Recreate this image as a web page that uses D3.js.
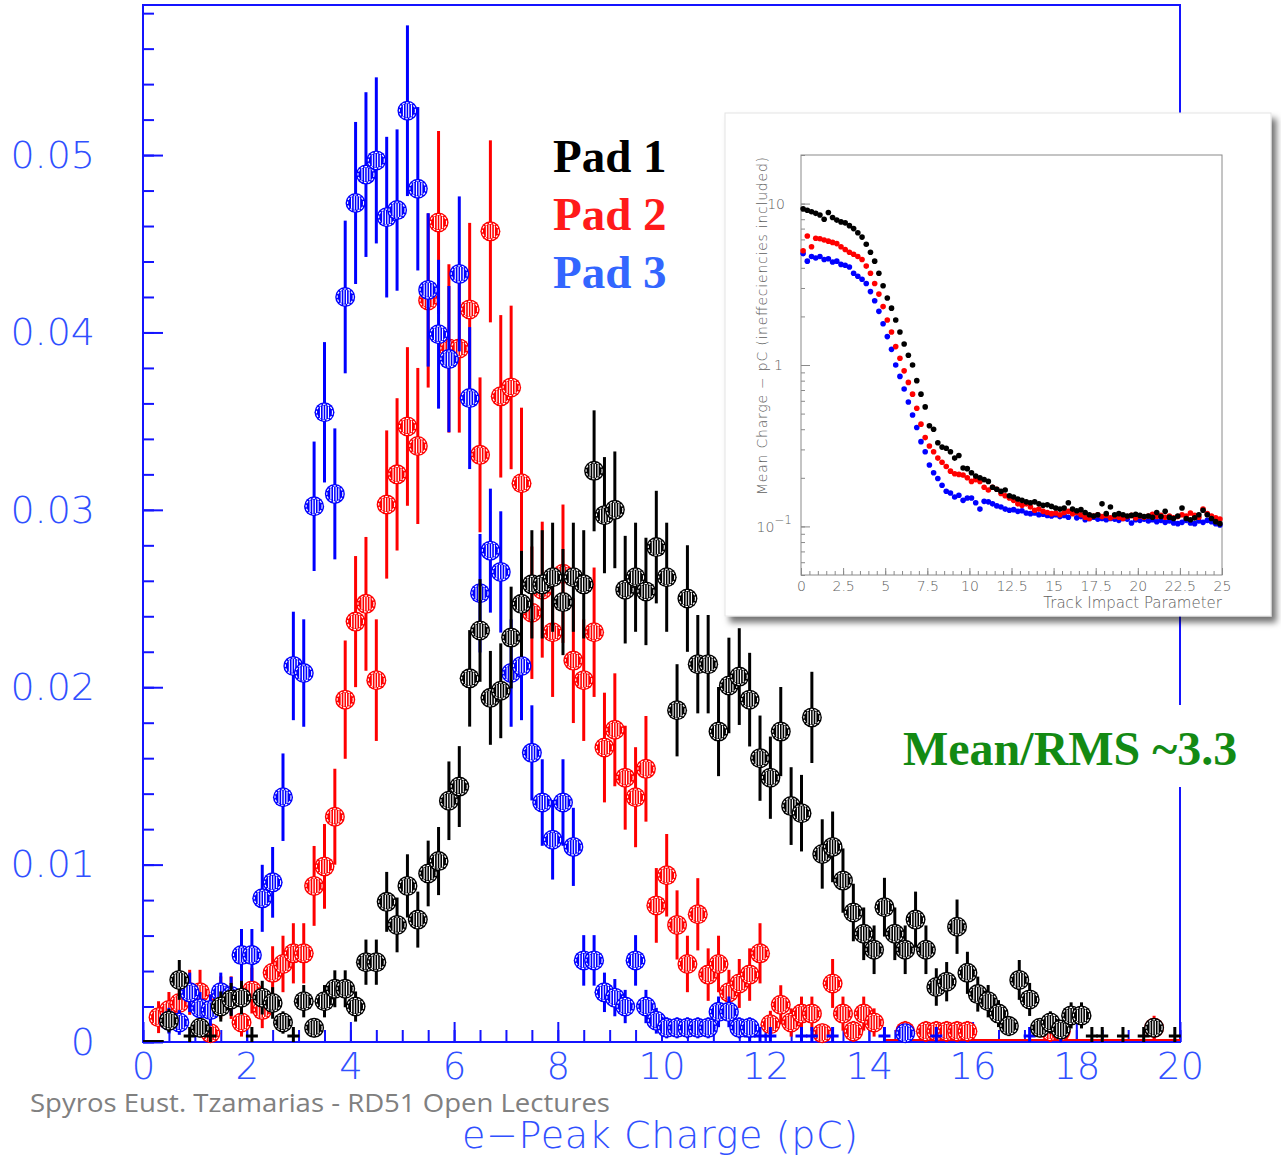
<!DOCTYPE html>
<html>
<head>
<meta charset="utf-8">
<script src="https://d3js.org/d3.v7.min.js"></script>
<style>
  body {margin: 0; background: #fff;}
  .domain {display: none;}
</style>
</head>
<body>
<svg id="chart" width="1281" height="1156"></svg>
<script>
// main histogram: 100 bins of 0.2 pC, values read bin by bin
var binCenters = d3.range(100).map(function(i) { return 0.1 + 0.2 * i; });

var pad1 = [
  0, 0, 0.0012, 0.0035, 0, 0.0008, 0, 0.0020, 0.0024, 0.0025,
  0, 0.0025, 0.0022, 0.0011, 0, 0.0023, 0.0008, 0.0023, 0.0030, 0.0030,
  0.0020, 0.0045, 0.0045, 0.0079, 0.0066, 0.0088, 0.0069, 0.0095, 0.0102, 0.0136,
  0.0144, 0.0205, 0.0232, 0.0194, 0.0198, 0.0228, 0.0247, 0.0258, 0.0258, 0.0262,
  0.0248, 0.0262, 0.0258, 0.0322, 0.0297, 0.0300, 0.0255, 0.0262, 0.0254, 0.0279,
  0.0262, 0.0187, 0.0250, 0.0213, 0.0213, 0.0175, 0.0201, 0.0206, 0.0193, 0.0160,
  0.0149, 0.0175, 0.0133, 0.0129, 0.0183, 0.0106, 0.0110, 0.0091, 0.0073, 0.0061,
  0.0052, 0.0076, 0.0061, 0.0052, 0.0069, 0.0052, 0.0031, 0.0034, 0.0065, 0.0039,
  0.0027, 0.0023, 0.0016, 0.0009, 0.0035, 0.0024, 0.0008, 0.0011, 0.0007, 0.0015,
  0.0015, 0, 0, 0, 0, 0, 0, 0.0008, 0, 0
];
var pad2 = [
  0, 0.0014, 0.0018, 0.0022, 0.0028, 0.0028, 0.0005, 0.0025, 0.0025, 0.0011,
  0.0029, 0.0018, 0.0039, 0.0044, 0.0050, 0.0050, 0.0088, 0.0099, 0.0127, 0.0193,
  0.0237, 0.0247, 0.0204, 0.0303, 0.0320, 0.0347, 0.0336, 0.0418, 0.0462, 0.0391,
  0.0391, 0.0413, 0.0331, 0.0457, 0.0364, 0.0369, 0.0315, 0.0242, 0.0255, 0.0231,
  0.0264, 0.0215, 0.0204, 0.0231, 0.0166, 0.0176, 0.0149, 0.0138, 0.0154, 0.0077,
  0.0094, 0.0066, 0.0044, 0.0072, 0.0038, 0.0044, 0.0028, 0.0033, 0.0038, 0.0050,
  0.0010, 0.0021, 0.0011, 0.0016, 0.0016, 0.0005, 0.0033, 0.0016, 0.0006, 0.0016,
  0.0011, 0, 0, 0.0006, 0, 0.0006, 0.0006, 0.0006, 0.0006, 0.0006,
  0, 0, 0, 0, 0, 0, 0, 0.0006, 0.0006, 0,
  0, 0, 0, 0, 0, 0, 0, 0.0008, 0, 0
];
var pad3 = [
  0, 0, 0.0012, 0.0011, 0.0028, 0.0019, 0.0018, 0.0028, 0.0026, 0.0049,
  0.0049, 0.0081, 0.0090, 0.0138, 0.0212, 0.0208, 0.0302, 0.0355, 0.0309, 0.0420,
  0.0473, 0.0489, 0.0497, 0.0465, 0.0469, 0.0525, 0.0481, 0.0424, 0.0399, 0.0385,
  0.0433, 0.0363, 0.0253, 0.0277, 0.0265, 0.0208, 0.0212, 0.0163, 0.0135, 0.0114,
  0.0135, 0.0110, 0.0046, 0.0046, 0.0028, 0.0025, 0.0020, 0.0046, 0.0020, 0.0012,
  0.0008, 0.0008, 0.0008, 0.0008, 0.0008, 0.0017, 0.0017, 0.0008, 0.0008, 0,
  0, 0, 0, 0, 0, 0, 0, 0, 0, 0,
  0, 0, 0, 0.0005, 0, 0, 0, 0, 0, 0,
  0, 0, 0, 0, 0, 0, 0, 0, 0, 0,
  0, 0, 0, 0, 0, 0, 0, 0, 0, 0
];
// empty bins that still show a "+" at zero
var pad1Empty = [0.9, 1.3, 2.1, 2.9, 18.3, 18.5, 18.9, 19.3, 19.9];
var pad3Empty = [11.7, 11.9, 12.1, 12.7, 12.9, 13.3, 14.3, 15.3, 17.1, 17.7];
// error bar = k * sqrt(value), k read per pad
var errK = [0.019, 0.024, 0.021];

var xTicks = [0, 2, 4, 6, 8, 10, 12, 14, 16, 18, 20];
var yTicks = [0, 0.01, 0.02, 0.03, 0.04, 0.05];
var legendNames = ["Pad 1", "Pad 2", "Pad 3"];

// inset: mean charge vs track impact parameter
var insetX = d3.range(100).map(function(i) { return 0.125 + 0.25 * i; });
var inset1 = [
  9.3, 9.1, 8.9, 8.7, 8.5, 8.0, 8.8, 8.2, 7.9, 7.7,
  7.6, 7.3, 7.0, 6.6, 6.2, 5.6, 5.0, 4.4, 3.7, 3.1,
  2.6, 2.25, 1.9, 1.6, 1.35, 1.15, 1.0, 0.8, 0.66, 0.55,
  0.42, 0.40, 0.33, 0.31, 0.305, 0.29, 0.265, 0.275, 0.23, 0.228,
  0.215, 0.205, 0.20, 0.195, 0.19, 0.175, 0.17, 0.165, 0.168, 0.155,
  0.152, 0.148, 0.145, 0.142, 0.14, 0.142, 0.138, 0.135, 0.136, 0.133,
  0.130, 0.128, 0.130, 0.140, 0.128, 0.125, 0.127, 0.122, 0.118, 0.116,
  0.118, 0.138, 0.120, 0.132, 0.118, 0.120, 0.118, 0.116, 0.117, 0.119,
  0.117, 0.115, 0.116, 0.114, 0.122, 0.115, 0.124, 0.114, 0.112, 0.116,
  0.130, 0.112, 0.110, 0.113, 0.118, 0.126, 0.118, 0.112, 0.107, 0.104
];
var inset2 = [
  5.1, 6.3, 5.4, 6.1, 6.05, 5.95, 5.85, 5.75, 5.65, 5.4,
  5.2, 5.0, 4.85, 4.7, 4.5, 4.1, 3.7, 3.2, 2.75, 2.3,
  1.9, 1.6, 1.3, 1.1, 0.92, 0.78, 0.66, 0.54, 0.43, 0.355,
  0.315, 0.29, 0.265, 0.25, 0.235, 0.22, 0.212, 0.21, 0.208, 0.20,
  0.19, 0.195, 0.19, 0.175, 0.168, 0.175, 0.17, 0.160, 0.155, 0.150,
  0.145, 0.138, 0.135, 0.138, 0.132, 0.126, 0.128, 0.124, 0.122, 0.120,
  0.121, 0.118, 0.122, 0.124, 0.120, 0.122, 0.118, 0.114, 0.112, 0.116,
  0.118, 0.115, 0.117, 0.113, 0.115, 0.114, 0.112, 0.115, 0.117, 0.113,
  0.116, 0.114, 0.116, 0.119, 0.115, 0.117, 0.114, 0.116, 0.113, 0.115,
  0.118, 0.116, 0.121, 0.117, 0.114, 0.128, 0.120, 0.116, 0.113, 0.111
];
var inset3 = [
  4.9, 4.4, 4.7, 4.6, 4.7, 4.5, 4.55, 4.35, 4.4, 4.2,
  4.15, 4.05, 3.7, 3.55, 3.4, 3.2, 2.85, 2.5, 2.15, 1.8,
  1.5, 1.25, 1.0, 0.85, 0.71, 0.59, 0.49, 0.41, 0.335, 0.29,
  0.24, 0.215, 0.198, 0.18, 0.165, 0.161, 0.152, 0.156, 0.145, 0.150,
  0.150, 0.140, 0.128, 0.143, 0.142, 0.138, 0.134, 0.132, 0.128, 0.126,
  0.127, 0.124, 0.125, 0.121, 0.120, 0.121, 0.118, 0.119, 0.117, 0.116,
  0.118, 0.115, 0.117, 0.114, 0.122, 0.113, 0.115, 0.110, 0.112, 0.114,
  0.111, 0.112, 0.110, 0.112, 0.111, 0.109, 0.112, 0.111, 0.105, 0.110,
  0.109, 0.111, 0.108, 0.110, 0.107, 0.109, 0.106, 0.108, 0.105, 0.104,
  0.106, 0.109, 0.105, 0.104, 0.108, 0.106, 0.109, 0.107, 0.104, 0.102
];
var insetXTicks = [0, 2.5, 5, 7.5, 10, 12.5, 15, 17.5, 20, 22.5, 25];

var svg = d3.select("#chart");
var axisBlue = "#1414ff", labelBlue = "#3050ff";
var colors = ["#000000", "#ff0000", "#0000ff"];
var thinFont = "'DejaVu Sans', sans-serif";

var x = d3.scaleLinear().domain([0, 20]).range([143, 1180]);
var y = d3.scaleLinear().domain([0, 0.05846]).range([1042, 5]);

// frame
svg.append("rect")
    .attr("x", x(0)).attr("y", y(0.05846))
    .attr("width", x(20) - x(0)).attr("height", y(0) - y(0.05846))
    .attr("fill", "none").attr("stroke", axisBlue).attr("stroke-width", 2);

// y ticks (inside) and labels
svg.append("g").attr("transform", "translate(" + x(0) + ",0)")
    .call(d3.axisRight(y).tickValues(d3.range(0, 0.0585, 0.002)).tickSize(11).tickFormat(""))
    .attr("color", axisBlue).selectAll("line").attr("stroke-width", 2);
svg.append("g").attr("transform", "translate(" + x(0) + ",0)")
    .call(d3.axisRight(y).tickValues(yTicks).tickSize(20).tickFormat(""))
    .attr("color", axisBlue).selectAll("line").attr("stroke-width", 2);
svg.append("g").attr("transform", "translate(" + x(0) + ",0)")
    .call(d3.axisLeft(y).tickValues(yTicks).tickSize(0).tickPadding(48)
        .tickFormat(function(d) { return d === 0 ? "0" : d3.format(".2f")(d); }))
    .attr("font-size", 38).attr("font-family", thinFont).attr("font-weight", 200)
    .attr("color", labelBlue);

// x ticks (inside) and labels
svg.append("g").attr("transform", "translate(0," + y(0) + ")")
    .call(d3.axisTop(x).tickValues(d3.range(0, 20.01, 0.5)).tickSize(12).tickFormat(""))
    .attr("color", axisBlue).selectAll("line").attr("stroke-width", 2);
svg.append("g").attr("transform", "translate(0," + y(0) + ")")
    .call(d3.axisTop(x).tickValues(xTicks).tickSize(20).tickFormat(""))
    .attr("color", axisBlue).selectAll("line").attr("stroke-width", 2);
svg.append("g").attr("transform", "translate(0," + y(0) + ")")
    .call(d3.axisBottom(x).tickValues(xTicks).tickSize(0).tickPadding(11).tickFormat(d3.format("d")))
    .attr("font-size", 37).attr("font-family", thinFont).attr("font-weight", 200)
    .attr("color", labelBlue);

// baseline segments of empty bins
svg.append("line").attr("x1", x(0)).attr("x2", x(0.4)).attr("y1", y(0) - 1).attr("y2", y(0) - 1)
    .attr("stroke", "#000").attr("stroke-width", 2);
svg.append("line").attr("x1", x(14.3)).attr("x2", x(20)).attr("y1", y(0) - 2).attr("y2", y(0) - 2)
    .attr("stroke", "#ff0000").attr("stroke-width", 2);

function drawPad(vals, color, k, empties) {
  var g = svg.append("g");
  var pts = binCenters.map(function(c, i) { return {c: c, v: vals[i]}; })
      .filter(function(d) { return d.v > 0; });

  g.selectAll("path.empty").data(empties).join("path")
      .attr("d", function(c) {
        return "M" + (x(c) - 6) + "," + (y(0) - 6) + "h12M" + x(c) + "," + (y(0) - 15) + "v15";
      })
      .attr("stroke", color).attr("stroke-width", 3).attr("fill", "none");

  g.selectAll("line.err").data(pts).join("line")
      .attr("x1", function(d) { return x(d.c); })
      .attr("x2", function(d) { return x(d.c); })
      .attr("y1", function(d) { return y(d.v + k * Math.sqrt(d.v)); })
      .attr("y2", function(d) { return y(Math.max(0, d.v - k * Math.sqrt(d.v))); })
      .attr("stroke", color).attr("stroke-width", 3);

  var m = g.selectAll("g.mk").data(pts).join("g")
      .attr("transform", function(d) { return "translate(" + x(d.c) + "," + y(d.v) + ")"; });
  m.append("circle").attr("r", 10).attr("fill", color);
  m.append("circle").attr("r", 8).attr("fill", "none")
      .attr("stroke", "#fff").attr("stroke-width", 1.1).attr("stroke-dasharray", "2.5,1.5");
  [-4, -1.3, 1.3, 4].forEach(function(dx) {
    var h = Math.sqrt(49 - dx * dx);
    m.append("line").attr("x1", dx).attr("x2", dx).attr("y1", -h).attr("y2", h)
        .attr("stroke", "#fff").attr("stroke-width", 1.1);
  });
}

drawPad(pad2, colors[1], errK[1], []);
drawPad(pad3, colors[2], errK[2], pad3Empty);
drawPad(pad1, colors[0], errK[0], pad1Empty);

// axis title and credit
svg.append("text").attr("x", 462).attr("y", 1148)
    .attr("textLength", 396).attr("lengthAdjust", "spacing")
    .attr("font-family", thinFont).attr("font-weight", 200).attr("font-size", 38)
    .attr("fill", labelBlue).text("e\u2212Peak  Charge  (pC)");
svg.append("text").attr("x", 30).attr("y", 1112)
    .attr("textLength", 580).attr("lengthAdjust", "spacingAndGlyphs")
    .attr("font-family", "'Open Sans', sans-serif").attr("font-size", 26)
    .attr("fill", "#808080").text("Spyros Eust. Tzamarias - RD51 Open Lectures");

// legend
var legendColors = ["#000000", "#ff1a1a", "#3366ff"];
svg.append("g").selectAll("text").data(legendNames).join("text")
    .attr("x", 553).attr("y", function(d, i) { return 172 + i * 58; })
    .attr("font-family", "'Liberation Serif', serif").attr("font-weight", "bold")
    .attr("font-size", 47).attr("fill", function(d, i) { return legendColors[i]; })
    .text(function(d) { return d; });

// inset panel
var defs = svg.append("defs");
var f = defs.append("filter").attr("id", "shadow").attr("x", "-5%").attr("y", "-5%")
    .attr("width", "115%").attr("height", "115%");
f.append("feDropShadow").attr("dx", 5).attr("dy", 6).attr("stdDeviation", 3)
    .attr("flood-color", "#000").attr("flood-opacity", 0.55);

var inset = svg.append("g");
inset.append("rect").attr("x", 725).attr("y", 113).attr("width", 546).attr("height", 503)
    .attr("fill", "#fff").attr("stroke", "#e4e4e4").attr("filter", "url(#shadow)");

var ix = d3.scaleLinear().domain([0, 25]).range([801, 1222]);
var iy = d3.scaleLog().domain([0.05, 20]).range([575, 155]);
var insetGrey = "#8a8a8a", insetText = "#606060";

inset.append("rect").attr("x", ix(0)).attr("y", iy(20))
    .attr("width", ix(25) - ix(0)).attr("height", iy(0.05) - iy(20))
    .attr("fill", "none").attr("stroke", insetGrey).attr("stroke-width", 1);

inset.append("g").attr("transform", "translate(" + ix(0) + ",0)")
    .call(d3.axisRight(iy).tickValues(iy.ticks()).tickSize(4).tickFormat(""))
    .attr("color", insetGrey);
inset.append("g").attr("transform", "translate(" + ix(0) + ",0)")
    .call(d3.axisRight(iy).tickValues([0.1, 1, 10]).tickSize(9).tickFormat(""))
    .attr("color", insetGrey);
inset.append("g").attr("transform", "translate(0," + iy(0.05) + ")")
    .call(d3.axisTop(ix).tickValues(d3.range(0, 25.01, 0.5)).tickSize(4).tickFormat(""))
    .attr("color", insetGrey);
inset.append("g").attr("transform", "translate(0," + iy(0.05) + ")")
    .call(d3.axisTop(ix).tickValues(insetXTicks).tickSize(7).tickFormat(""))
    .attr("color", insetGrey);
inset.append("g").attr("transform", "translate(0," + iy(0.05) + ")")
    .call(d3.axisBottom(ix).tickValues(insetXTicks).tickSize(0).tickPadding(6).tickFormat(d3.format("")))
    .attr("font-size", 14).attr("font-family", thinFont).attr("font-weight", 200)
    .attr("color", insetText);

var yl = inset.append("g").attr("font-family", thinFont).attr("font-weight", 200)
    .attr("font-size", 14).attr("fill", insetText).attr("text-anchor", "end");
yl.append("text").attr("x", 785).attr("y", iy(10) + 5).text("10");
yl.append("text").attr("x", 783).attr("y", iy(1) + 5).text("1");
var tm = yl.append("text").attr("x", 792).attr("y", iy(0.1) + 6);
tm.append("tspan").text("10");
tm.append("tspan").attr("dy", -8).attr("font-size", 12).text("\u22121");

inset.append("text").attr("transform", "translate(767,157) rotate(-90)")
    .attr("text-anchor", "end").attr("textLength", 338).attr("lengthAdjust", "spacing")
    .attr("font-family", thinFont).attr("font-weight", 200).attr("font-size", 14)
    .attr("fill", insetText).text("Mean Charge \u2212 pC   (ineffeciencies included)");
inset.append("text").attr("x", 1222).attr("y", 608).attr("text-anchor", "end")
    .attr("font-family", thinFont).attr("font-weight", 200).attr("font-size", 15)
    .attr("fill", insetText).text("Track Impact Parameter");

[[inset3, colors[2]], [inset2, colors[1]], [inset1, colors[0]]].forEach(function(s) {
  inset.append("g").selectAll("circle").data(s[0]).join("circle")
      .attr("cx", function(d, i) { return ix(insetX[i]); })
      .attr("cy", function(d) { return iy(d); })
      .attr("r", 2.8).attr("fill", s[1]);
});

// note with white backing over the frame
var note = svg.append("g");
note.append("rect").attr("x", 898).attr("y", 705).attr("width", 344).attr("height", 82).attr("fill", "#fff");
note.append("text").attr("x", 903).attr("y", 765)
    .attr("font-family", "'Liberation Serif', serif").attr("font-weight", "bold")
    .attr("font-size", 48).attr("fill", "#138a13").text("Mean/RMS ~3.3");
</script>
</body>
</html>
